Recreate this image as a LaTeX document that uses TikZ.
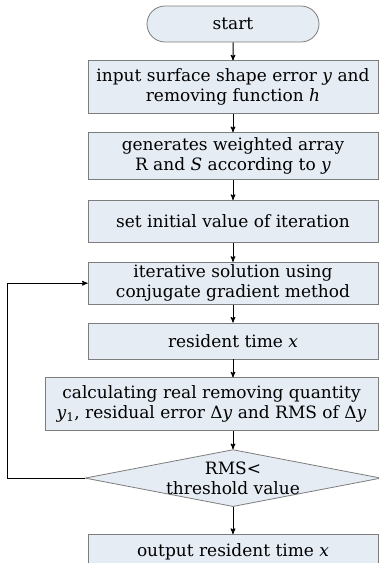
\documentclass[tikz,border=0pt]{standalone}
\usepackage{fontspec}
\setmainfont{DejaVu Serif}
\usetikzlibrary{positioning, arrows, shapes}
\tikzset{>=stealth'}
\definecolor{boxfill}{RGB}{230,236,244}
\definecolor{boxline}{RGB}{125,125,125}
\newcommand{\var}[1]{\textit{#1}}

\begin{document}
\begin{tikzpicture}
    [x=1pt, y=1pt, line width=0.8pt,
      box/.style={draw=boxline, fill=boxfill, align=center, inner sep=1pt,
        minimum width=290pt, font=\fontsize{17}{20}\selectfont},
      term/.style={box, rounded rectangle, minimum width=174pt, minimum height=36pt},
      cond/.style={draw=boxline, fill=boxfill, diamond, inner sep=0pt,
        minimum width=296pt, minimum height=57pt},
      flow/.style={->, line width=1pt}]

    \useasboundingbox (0,0) rectangle (379,-563);

    \node[term] (start) at (233,-24) {start};
    \node[box, below=18pt of start, minimum height=53pt] (input)
      {input surface shape error \var{y} and\\ removing function \var{h}};
    \node[box, below=18pt of input, minimum height=47pt] (weights)
      {generates weighted array\\ R and \var{S} according to \var{y}};
    \node[box, below=20pt of weights, minimum height=42pt] (init)
      {set initial value of iteration};
    \node[box, below=19pt of init, minimum height=42pt] (iter)
      {iterative solution using\\ conjugate gradient method};
    \node[box, below=18pt of iter, minimum height=36pt] (resident)
      {resident time \var{x}};
    \node[box, below=18pt of resident, xshift=-21.5pt, minimum width=333pt,
      minimum height=53pt] (calc)
      {calculating real removing quantity\\ \var{y}\textsubscript{1}, residual error Δ\var{y} and RMS of Δ\var{y}};

    \coordinate (calcfoot) at (calc.south -| resident);
    \node[cond, below=18pt of calcfoot,
      label={[align=center, font=\fontsize{17}{20}\selectfont]center:RMS<\\ threshold value}]
      (check) {};
    \node[box, below=27pt of check, minimum height=34pt] (output)
      {output resident time \var{x}};

    \draw[flow] (start) -- (input);
    \draw[flow] (input) -- (weights);
    \draw[flow] (weights) -- (init);
    \draw[flow] (init) -- (iter);
    \draw[flow] (iter) -- (resident);
    \draw[flow] (resident) -- (calc.north -| resident);
    \draw[flow] (calcfoot) -- (check);
    \draw[flow] (check) -- (output);
    \draw[flow] (check.west) -- ++(-77pt,0) |- (iter.west);
  \end{tikzpicture}
\end{document}
